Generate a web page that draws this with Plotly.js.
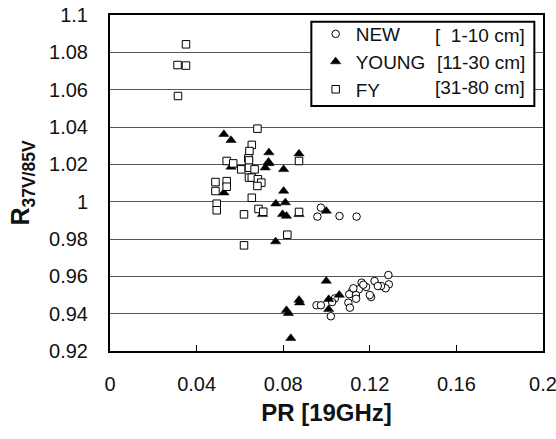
<!DOCTYPE html>
<html><head><meta charset="utf-8">
<script src="https://cdn.plot.ly/plotly-3.0.1.min.js"></script>
<style>body{margin:0;background:#fff}#chart{width:556px;height:439px}</style>
</head><body><div id="chart"></div>
<script>
const newX = [0.0974,0.0958,0.1060,0.1139,0.1286,0.1288,0.1273,0.1252,0.1222,0.1237,0.1162,0.1183,0.1149,0.1118,0.1105,0.1136,0.1137,0.1101,0.1108,0.1206,0.1039,0.1026,0.0954,0.0974,0.1020,0.1124,0.1200,0.1170];
const newY = [0.9968,0.9920,0.9923,0.9920,0.9607,0.9557,0.9536,0.9548,0.9575,0.9548,0.9566,0.9543,0.9530,0.9521,0.9504,0.9500,0.9480,0.9459,0.9432,0.9489,0.9482,0.9462,0.9445,0.9445,0.9386,0.9536,0.9500,0.9555];
const youngX = [0.0526,0.0559,0.0559,0.0526,0.0734,0.0734,0.0717,0.0802,0.0802,0.0766,0.0810,0.0797,0.0815,0.0704,0.0873,0.0873,0.0999,0.0765,0.0999,0.0876,0.0873,0.0815,0.0824,0.1010,0.1010,0.1059,0.0835,0.0732];
const youngY = [1.0361,1.0329,1.0186,1.0048,1.0263,1.0205,1.0182,1.0173,1.0057,0.9989,0.9995,0.9932,0.9923,0.9932,1.0257,0.9932,0.9950,0.9786,0.9575,0.9459,0.9473,0.9418,0.9402,0.9423,0.9477,0.9500,0.9268,1.0213];
const fyX = [0.0351,0.0312,0.0351,0.0314,0.0681,0.0655,0.0644,0.0539,0.0569,0.0639,0.0642,0.0606,0.0642,0.0668,0.0642,0.0655,0.0683,0.0699,0.0681,0.0487,0.0487,0.0539,0.0539,0.0493,0.0493,0.0655,0.0686,0.0708,0.0619,0.0873,0.0873,0.0819,0.0619];
const fyY = [1.0843,1.0732,1.0729,1.0566,1.0391,1.0304,1.0271,1.0218,1.0205,1.0232,1.0221,1.0173,1.0182,1.0173,1.0129,1.0129,1.0120,1.0102,1.0084,1.0105,1.0057,1.0110,1.0080,0.9989,0.9954,1.0021,0.9961,0.9946,0.9932,0.9945,1.0218,0.9823,0.9766];
const seriesNames = ["NEW","YOUNG","FY"];
const rangeLabels = ["[\u00A0\u00A01-10 cm]","[11-30 cm]","[31-80 cm]"];
const xTicks = [0,0.04,0.08,0.12,0.16,0.2];
const xTickText = ["0","0.04","0.08","0.12","0.16","0.2"];

const FONT = "Liberation Sans, Arial, sans-serif";
const traces = [
  {x:newX,y:newY,name:seriesNames[0],type:"scatter",mode:"markers",
   marker:{symbol:"circle",size:7.5,color:"#fff",line:{color:"#000",width:1}}},
  {x:youngX,y:youngY,name:seriesNames[1],type:"scatter",mode:"markers",
   marker:{symbol:"triangle-up",size:9,color:"#000",line:{color:"#000",width:0.5}}},
  {x:fyX,y:fyY,name:seriesNames[2],type:"scatter",mode:"markers",
   marker:{symbol:"square",size:7.5,color:"#fff",line:{color:"#000",width:1}}}
];
const layout = {
  width:556,height:439,
  margin:{l:109.5,r:12.5,t:14.5,b:88,pad:0},
  paper_bgcolor:"#fff",plot_bgcolor:"#fff",
  font:{family:FONT,color:"#111",size:19},
  showlegend:true,
  legend:{x:0.475,y:1.0,xanchor:"left",yanchor:"top",bgcolor:"rgba(0,0,0,0)",borderwidth:0,
    font:{family:FONT,size:19,color:"#111"},itemwidth:30,tracegroupgap:0},
  xaxis:{range:[0,0.2],tickmode:"array",tickvals:xTicks,ticktext:xTickText,showgrid:false,zeroline:false,
    showline:true,linecolor:"#000",linewidth:2,mirror:true,
    ticks:"inside",ticklen:6,tickwidth:1,tickcolor:"#000",ticklabeloverflow:"allow",
    ticklabelstandoff:14,tickfont:{family:FONT,size:20,color:"#111"},
    title:{text:"<b>PR [19GHz]</b>",font:{family:FONT,size:24,color:"#111"},standoff:10}},
  yaxis:{range:[0.92,1.1],dtick:0.02,tick0:0.92,showgrid:true,gridcolor:"#555",gridwidth:1,zeroline:false,
    showline:true,linecolor:"#000",linewidth:2,mirror:true,ticks:"",
    ticklabelstandoff:16,tickfont:{family:FONT,size:20,color:"#111"},
    title:{text:"<b>R<sub>37V/85V</sub></b>",font:{family:FONT,size:25,color:"#111"},standoff:12}},
  shapes:[{type:"rect",xref:"x",yref:"y",x0:0.093,x1:0.196,y0:1.0513,y1:1.0964,
    layer:"above",fillcolor:"#fff",line:{color:"#000",width:2}}],
  annotations:[1.0891,1.0748,1.0614].map((yy,i)=>({xref:"x",yref:"y",x:0.1925,y:yy,
    text:rangeLabels[i],showarrow:false,xanchor:"right",yanchor:"middle",
    font:{family:FONT,size:19,color:"#111"}}))
};
Plotly.newPlot("chart",traces,layout,{displayModeBar:false,staticPlot:true});
</script></body></html>
